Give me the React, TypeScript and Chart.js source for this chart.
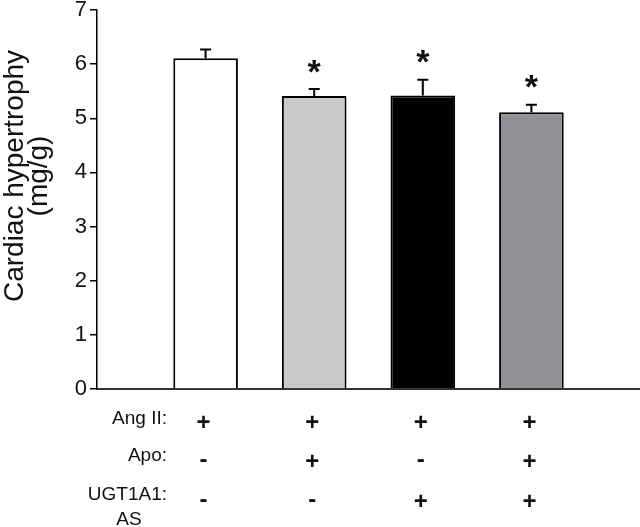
import React, { useEffect, useRef } from 'react';
import { Chart, registerables } from 'chart.js';
Chart.register(...registerables);

const groupIndex = [1, 2, 3, 4];
const means = [6.11, 5.41, 5.42, 5.11];
const errors = [0.16, 0.13, 0.29, 0.14];
const significant = [false, true, true, true];
const barColors = ['#ffffff', '#c8c9cb', '#000000', '#909195'];
const yTitle = ['Cardiac hypertrophy', '(mg/g)'];
const rowLabels = ['Ang II:', 'Apo:', 'UGT1A1:'];
const rowSubLabel = 'AS';
const angII = ['+', '+', '+', '+'];
const apo = ['-', '+', '-', '+'];
const ugt = ['-', '-', '+', '+'];
const treatmentRows = [angII, apo, ugt];

const FONT = "'Liberation Sans', Arial, Helvetica, sans-serif";
const INK = '#111111';

function drawCentered(ctx: CanvasRenderingContext2D, text: string, x: number, cy: number) {
  const m = ctx.measureText(text);
  const asc = m.actualBoundingBoxAscent;
  const desc = m.actualBoundingBoxDescent;
  const baseline = cy - (desc - asc) / 2;
  ctx.fillText(text, x, baseline);
}

const overlayPlugin = {
  id: 'overlay',
  afterDraw(chart: any) {
    const ctx: CanvasRenderingContext2D = chart.ctx;
    const xs = chart.scales.x;
    const ys = chart.scales.y;
    const area = chart.chartArea;
    ctx.save();

    // error bars and asterisks
    ctx.strokeStyle = '#000';
    ctx.lineWidth = 2;
    ctx.fillStyle = INK;
    for (let i = 0; i < means.length; i++) {
      const px = xs.getPixelForValue(groupIndex[i]);
      const top = ys.getPixelForValue(means[i]);
      const et = ys.getPixelForValue(means[i] + errors[i]);
      ctx.beginPath();
      ctx.moveTo(px, top);
      ctx.lineTo(px, et);
      ctx.moveTo(px - 5.5, et);
      ctx.lineTo(px + 5.5, et);
      ctx.stroke();
      if (significant[i]) {
        ctx.font = `bold 34px ${FONT}`;
        ctx.textAlign = 'center';
        drawCentered(ctx, '*', px, et - 23);
      }
    }

    // y title
    ctx.save();
    ctx.translate(23, area.top + 166);
    ctx.rotate(-Math.PI / 2);
    ctx.font = `28px ${FONT}`;
    ctx.textAlign = 'center';
    ctx.textBaseline = 'alphabetic';
    ctx.fillStyle = INK;
    ctx.fillText(yTitle[0], 0, 0);
    ctx.fillText(yTitle[1], 0, 24);
    ctx.restore();

    // treatment rows
    const labelBaselines = [35, 72, 111];
    const symbolCenters = [32, 71, 111];
    ctx.fillStyle = INK;
    for (let r = 0; r < treatmentRows.length; r++) {
      ctx.font = `19px ${FONT}`;
      ctx.textAlign = 'right';
      ctx.textBaseline = 'alphabetic';
      ctx.fillText(rowLabels[r], area.left + 70, area.bottom + labelBaselines[r]);
      ctx.font = `bold 24px ${FONT}`;
      ctx.textAlign = 'center';
      for (let i = 0; i < treatmentRows[r].length; i++) {
        const px = xs.getPixelForValue(groupIndex[i]);
        drawCentered(ctx, treatmentRows[r][i], px - 2, area.bottom + symbolCenters[r]);
      }
    }
    ctx.font = `19px ${FONT}`;
    ctx.textAlign = 'center';
    ctx.textBaseline = 'alphabetic';
    ctx.fillText(rowSubLabel, area.left + 32, area.bottom + 136);

    ctx.restore();
  },
};

export default function App() {
  const ref = useRef<HTMLCanvasElement | null>(null);
  useEffect(() => {
    if (!ref.current) return;
    const chart = new Chart(ref.current, {
      type: 'bar',
      data: {
        datasets: [
          {
            data: means.map((m, i) => ({ x: groupIndex[i], y: m })),
            backgroundColor: barColors,
            borderColor: '#000000',
            borderWidth: 2,
            barPercentage: 0.595,
            categoryPercentage: 1,
          },
        ],
      },
      options: {
        animation: false,
        responsive: false,
        devicePixelRatio: 1,
        layout: { padding: { top: 10, left: 0, right: 0, bottom: 0 } },
        plugins: { legend: { display: false }, tooltip: { enabled: false } },
        scales: {
          x: {
            type: 'linear',
            min: 0,
            max: 5,
            offset: false,
            grid: { display: false, drawTicks: false },
            ticks: { display: false, stepSize: 1 },
            border: { display: true, color: '#333333', width: 2 },
            afterFit: (s: any) => {
              s.height = 138;
              s.paddingLeft = 0;
              s.paddingRight = 0;
            },
          },
          y: {
            min: 0,
            max: 7,
            ticks: {
              stepSize: 1,
              padding: 3,
              color: INK,
              font: { family: FONT, size: 22 },
            },
            grid: {
              display: true,
              drawOnChartArea: false,
              drawTicks: true,
              tickLength: 7,
              tickColor: '#000',
              tickWidth: 1.5,
              lineWidth: 1.5,
              color: '#000',
            },
            border: { display: true, color: '#000000', width: 1.5 },
            afterFit: (s: any) => {
              s.width = 97;
              s.paddingTop = 0;
              s.paddingBottom = 0;
            },
          },
        },
      } as any,
      plugins: [overlayPlugin],
    });
    return () => chart.destroy();
  }, []);
  return (
    <div style={{ position: 'absolute', left: 0, top: 0, width: 640, height: 527, background: '#fff' }}>
      <canvas ref={ref} width={640} height={527} />
    </div>
  );
}
